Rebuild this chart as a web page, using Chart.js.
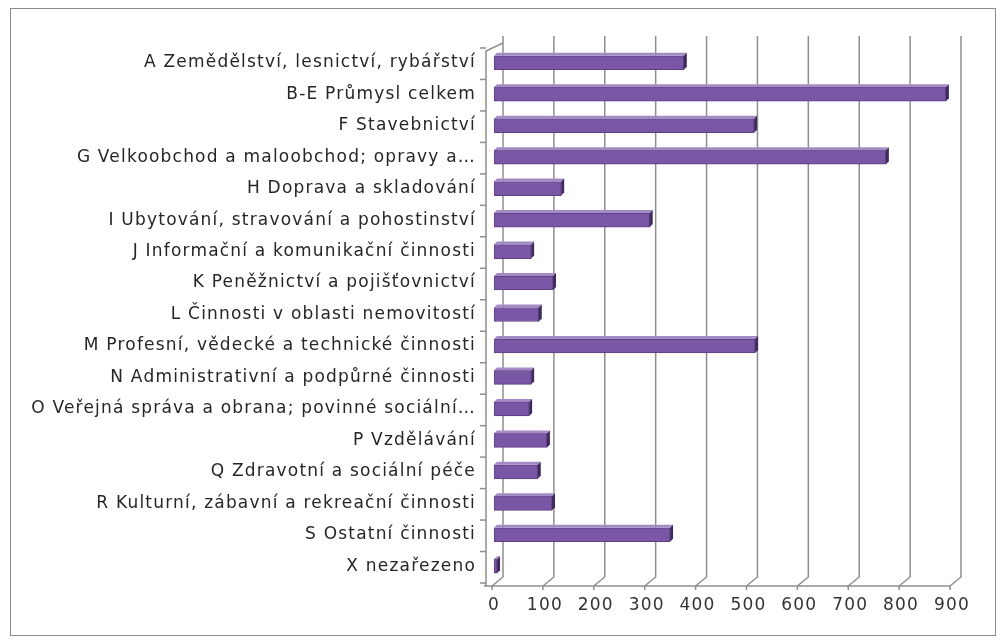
<!DOCTYPE html>
<html>
<head>
<meta charset="utf-8">
<script src="https://cdn.jsdelivr.net/npm/chart.js@4"></script>
<style>
  html, body { margin: 0; padding: 0; background: #ffffff; }
  #wrap { width: 1003px; height: 641px; position: relative; }
</style>
</head>
<body>
<div id="wrap"><canvas id="c" width="1003" height="641"></canvas></div>
<script>
const categories = [
  "A Zemědělství, lesnictví, rybářství",
  "B-E Průmysl celkem",
  "F Stavebnictví",
  "G Velkoobchod a maloobchod; opravy a…",
  "H Doprava a skladování",
  "I Ubytování, stravování a pohostinství",
  "J Informační a komunikační činnosti",
  "K Peněžnictví a pojišťovnictví",
  "L Činnosti v oblasti nemovitostí",
  "M Profesní, vědecké a technické činnosti",
  "N Administrativní a podpůrné činnosti",
  "O Veřejná správa a obrana; povinné sociální…",
  "P Vzdělávání",
  "Q Zdravotní a sociální péče",
  "R Kulturní, zábavní a rekreační činnosti",
  "S Ostatní činnosti",
  "X nezařezeno"
];
const values = [373, 888, 511, 770, 132, 306, 73, 116, 88, 513, 73, 69, 104, 86, 114, 346, 6];
const xMin = 0;
const xMax = 900;
const xStep = 100;

const DX = 9, DY = -9;
const SPACING = '1.2px';

const frame3d = {
  id: 'frame3d',
  beforeInit(chart) {
    chart.ctx.letterSpacing = SPACING;
  },
  beforeDraw(chart) {
    const ctx = chart.ctx;
    ctx.letterSpacing = SPACING;
    ctx.save();
    ctx.fillStyle = '#ffffff';
    ctx.fillRect(0, 0, chart.width, chart.height);
    ctx.strokeStyle = '#8a8a8a';
    ctx.lineWidth = 1;
    ctx.strokeRect(10.5, 8.5, 985, 627);
    ctx.restore();
  },
  beforeDatasetsDraw(chart) {
    const ctx = chart.ctx;
    const xs = chart.scales.x;
    const a = chart.chartArea;
    const x0 = xs.getPixelForValue(xMin);
    const floorY = a.bottom + 4;
    ctx.save();
    ctx.strokeStyle = '#8e8e8e';
    ctx.lineWidth = 1.5;
    for (let v = xMin; v <= xMax; v += xStep) {
      const fx = xs.getPixelForValue(v) - 2;
      const bx = fx + DX + 2;
      ctx.beginPath();
      ctx.moveTo(bx, a.top - 11);
      ctx.lineTo(bx, floorY + DY);
      ctx.lineTo(fx, floorY);
      ctx.stroke();
      ctx.beginPath();
      ctx.moveTo(fx, floorY);
      ctx.lineTo(fx, floorY + 4);
      ctx.stroke();
    }
    ctx.beginPath();
    ctx.moveTo(x0 - 10, floorY);
    ctx.lineTo(xs.getPixelForValue(xMax) - 2, floorY);
    ctx.stroke();
    const wx = x0 - 8;
    ctx.beginPath();
    ctx.moveTo(wx, floorY);
    ctx.lineTo(wx, a.top + 4);
    ctx.lineTo(x0 + DX, a.top - 4);
    ctx.stroke();
    const n = categories.length;
    const step = (a.bottom - a.top) / n;
    for (let i = 0; i <= n; i++) {
      const y = a.top + i * step + 1;
      ctx.beginPath();
      ctx.moveTo(wx - 6, y);
      ctx.lineTo(wx, y);
      ctx.stroke();
    }
    ctx.restore();
  },
  afterDatasetsDraw(chart) {
    const ctx = chart.ctx;
    const meta = chart.getDatasetMeta(0);
    ctx.save();
    meta.data.forEach(bar => {
      const p = bar.getProps(['x', 'y', 'base', 'height'], true);
      const h = p.height;
      const top = p.y - h / 2, bot = p.y + h / 2;
      const d = 3;
      ctx.fillStyle = '#a48bc6';
      ctx.beginPath();
      ctx.moveTo(p.base, top);
      ctx.lineTo(p.base + d, top - d);
      ctx.lineTo(p.x + d, top - d);
      ctx.lineTo(p.x, top);
      ctx.closePath();
      ctx.fill();
      ctx.fillStyle = '#3f2a5f';
      ctx.beginPath();
      ctx.moveTo(p.x, top);
      ctx.lineTo(p.x + d, top - d);
      ctx.lineTo(p.x + d, bot - d);
      ctx.lineTo(p.x, bot);
      ctx.closePath();
      ctx.fill();
    });
    ctx.restore();
  }
};

new Chart(document.getElementById('c'), {
  type: 'bar',
  data: {
    labels: categories,
    datasets: [{
      data: values,
      backgroundColor: '#7a57a5',
      borderColor: '#5b3f82',
      borderWidth: 1,
      barThickness: 14,
      borderSkipped: false
    }]
  },
  plugins: [frame3d],
  options: {
    responsive: false,
    animation: false,
    indexAxis: 'y',
    layout: { padding: { left: 10, right: 51, top: 47, bottom: 14 } },
    plugins: { legend: { display: false }, tooltip: { enabled: false } },
    scales: {
      x: {
        min: xMin, max: xMax,
        ticks: { stepSize: xStep, color: '#333333', padding: 13,
                 font: { family: 'DejaVu Sans', size: 17 } },
        grid: { display: false, drawTicks: false },
        border: { display: false },
        afterFit(s) { s.height = 45; }
      },
      y: {
        ticks: { color: '#262626', padding: 18, autoSkip: false,
                 font: { family: 'DejaVu Sans', size: 17 } },
        grid: { display: false, drawTicks: false },
        border: { display: false },
        afterFit(s) { s.width = 484; }
      }
    }
  }
});
</script>
</body>
</html>
